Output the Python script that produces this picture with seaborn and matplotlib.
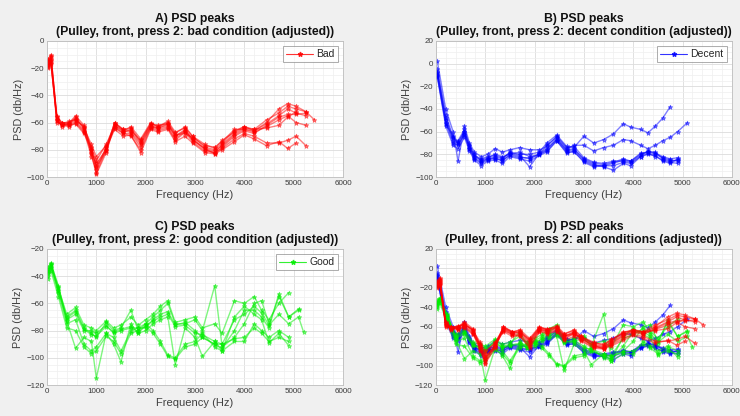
import numpy as np
import pandas as pd
import matplotlib
matplotlib.use("Agg")
import matplotlib.pyplot as plt
import seaborn as sns
from matplotlib.ticker import AutoMinorLocator, MultipleLocator
from matplotlib.lines import Line2D

# ---------------- data ----------------
freq_bad = [30, 80, 200, 300, 450, 580, 750, 900, 1000, 1200, 1370, 1550, 1700, 1900,
            2100, 2250, 2450, 2600, 2800, 2950, 3200, 3400, 3550, 3800, 4000, 4200,
            4450, 4700, 4880, 5050, 5250, 5420]
bad_1 = [-15, -12, -55, -60, -60, -55, -62, -80, -97, -80, -60, -66, -63, -72, -60, -63, -60, -68, -63, -70, -78, -80, -75, -66, -63, -66, -60, -50, -46, -48, -52, -58]
bad_2 = [-18, -14, -58, -62, -60, -57, -65, -83, -98, -82, -62, -67, -65, -75, -62, -64, -62, -70, -65, -72, -80, -82, -76, -68, -64, -65, -58, -53, -48, -50, -52]
bad_3 = [-20, -17, -56, -61, -62, -59, -66, -85, -95, -78, -64, -68, -68, -78, -63, -65, -63, -72, -66, -73, -79, -83, -78, -70, -66, -68, -62, -56, -54, -54, -53]
bad_4 = [-13, -10, -57, -63, -61, -58, -63, -82, -90, -80, -60, -65, -66, -73, -61, -62, -61, -69, -68, -71, -77, -78, -74, -65, -65, -67, -63, -58, -55, -60, -62]
bad_5 = [-16, -13, -59, -62, -63, -60, -67, -78, -88, -76, -63, -68, -70, -80, -64, -66, -64, -73, -67, -74, -81, -82, -79, -72, -68, -70, -75, -75, -73, -70, -77]
bad_6 = [-19, -15, -60, -61, -62, -61, -68, -80, -92, -79, -65, -70, -69, -82, -65, -67, -65, -74, -70, -75, -82, -83, -80, -74, -69, -72, -77, -74, -79, -75]
bad_7 = [-14, -11, -56, -60, -61, -56, -64, -76, -85, -77, -61, -65, -64, -74, -61, -63, -59, -67, -64, -70, -76, -79, -73, -67, -63, -65, -64, -62, -56, -52]
bad_8 = [-17, -16, -58, -61, -59, -58, -63, -79, -93, -81, -62, -66, -67, -76, -63, -64, -61, -70, -66, -72, -79, -81, -77, -69, -65, -66, -61, -55, -50, -53, -55]
bad_series = [bad_1, bad_2, bad_3, bad_4, bad_5, bad_6, bad_7, bad_8]

freq_decent = [30, 200, 350, 450, 580, 680, 780, 920, 1050, 1200, 1350, 1500, 1700, 1900,
               2100, 2250, 2450, 2650, 2800, 3000, 3200, 3400, 3600, 3800, 3950, 4150,
               4300, 4450, 4600, 4750, 4900, 5100]
decent_1 = [-5, -45, -65, -68, -58, -72, -80, -86, -84, -82, -84, -78, -80, -80, -78, -70, -63, -73, -74, -64, -70, -67, -62, -53, -56, -58, -61, -55, -48, -38]
decent_2 = [-8, -50, -68, -70, -60, -74, -82, -85, -83, -80, -82, -80, -78, -82, -80, -72, -65, -75, -72, -72, -77, -74, -72, -67, -68, -72, -75, -72, -68, -65, -60, -52]
decent_3 = [-10, -52, -70, -72, -62, -75, -84, -88, -85, -83, -86, -80, -82, -84, -80, -76, -66, -77, -76, -84, -88, -89, -87, -84, -86, -80, -78, -80, -83, -85, -86]
decent_4 = [-12, -55, -72, -75, -65, -77, -85, -90, -86, -85, -88, -82, -84, -86, -81, -78, -68, -78, -78, -86, -90, -90, -90, -87, -88, -82, -79, -82, -85, -87, -88]
decent_5 = [2, -40, -60, -86, -55, -70, -78, -82, -80, -75, -78, -76, -74, -76, -76, -73, -64, -74, -73, -83, -87, -88, -86, -86, -87, -81, -77, -79, -82, -84, -83]
decent_6 = [-7, -48, -66, -69, -60, -73, -81, -84, -82, -81, -83, -79, -81, -91, -79, -75, -67, -76, -75, -85, -89, -91, -94, -88, -90, -82, -80, -81, -86, -88, -84]
decent_7 = [-11, -53, -64, -71, -63, -75, -83, -87, -84, -84, -85, -81, -83, -83, -80, -77, -68, -79, -77, -87, -91, -90, -88, -85, -86, -79, -78, -78, -84, -86, -85]
decent_series = [decent_1, decent_2, decent_3, decent_4, decent_5, decent_6, decent_7]

freq_good = [30, 80, 230, 400, 580, 750, 900, 1000, 1200, 1350, 1500, 1700, 1850, 2000,
             2150, 2300, 2450, 2600, 2800, 3000, 3150, 3400, 3550, 3800, 4000, 4200,
             4350, 4500, 4700, 4900, 5100, 5200]
good_1 = [-35, -30, -48, -70, -65, -78, -82, -85, -74, -80, -78, -65, -80, -75, -70, -65, -60, -75, -75, -72, -80, -47, -92, -85, -75, -60, -58, -75, -55, -70, -65]
good_2 = [-38, -32, -50, -72, -68, -80, -80, -82, -76, -82, -80, -78, -78, -78, -72, -68, -66, -76, -74, -80, -85, -90, -93, -80, -65, -65, -70, -78, -53, -70, -64]
good_3 = [-40, -34, -52, -75, -72, -90, -95, -92, -82, -85, -95, -80, -78, -75, -80, -88, -98, -100, -90, -88, -82, -92, -95, -88, -88, -75, -80, -85, -80, -85]
good_4 = [-42, -36, -55, -78, -80, -92, -97, -95, -84, -88, -97, -82, -80, -77, -82, -90, -99, -101, -92, -90, -85, -90, -90, -86, -85, -78, -82, -88, -85, -88]
good_5 = [-33, -31, -47, -73, -93, -85, -88, -115, -82, -90, -103, -75, -82, -80, -75, -72, -70, -105, -78, -85, -99, -88, -95, -70, -62, -68, -72, -89, -82, -91]
good_6 = [-36, -33, -49, -68, -63, -76, -78, -80, -73, -78, -76, -70, -76, -72, -68, -62, -58, -74, -72, -70, -78, -75, -82, -58, -60, -55, -65, -72, -60, -52]
good_7 = [-37, -31, -51, -71, -66, -79, -83, -84, -77, -81, -79, -77, -82, -76, -73, -70, -68, -77, -76, -82, -83, -88, -90, -72, -68, -62, -67, -76, -68, -75, -70, -81]
good_series = [good_1, good_2, good_3, good_4, good_5, good_6, good_7]

titles = ["A) PSD peaks\n(Pulley, front, press 2: bad condition (adjusted))",
          "B) PSD peaks\n(Pulley, front, press 2: decent condition (adjusted))",
          "C) PSD peaks\n(Pulley, front, press 2: good condition (adjusted))",
          "D) PSD peaks\n(Pulley, front, press 2: all conditions (adjusted))"]
legend_labels = ["Bad", "Decent", "Good"]
ylims = [(-100, 0), (-100, 20), (-120, -20), (-120, 20)]

# ---------------- styling ----------------
sns.set_theme(style="white")
plt.rcParams['font.family'] = ['Liberation Sans', 'DejaVu Sans']

col = {"Bad": "#ff0000", "Decent": "#0000ff", "Good": "#00ee00"}

def build(freq, series, cond):
    rows = []
    for i, vals in enumerate(series):
        for f, v in zip(freq, vals):
            rows.append((cond, i, f, v))
    return pd.DataFrame(rows, columns=["cond", "run", "freq", "psd"])

df_bad = build(freq_bad, bad_series, "Bad")
df_dec = build(freq_decent, decent_series, "Decent")
df_good = build(freq_good, good_series, "Good")

fig = plt.figure(figsize=(7.4, 4.16), dpi=100)
fig.patch.set_facecolor("#f0f0f0")

pos = [[0.0635, 0.5745, 0.40, 0.327],
       [0.589, 0.5745, 0.40, 0.327],
       [0.0635, 0.0745, 0.40, 0.327],
       [0.589, 0.0745, 0.40, 0.327]]
axes = [fig.add_axes(p) for p in pos]

def draw(ax, df):
    cond = df["cond"].iloc[0]
    sns.lineplot(data=df, x="freq", y="psd", units="run", estimator=None,
                 color=col[cond], marker="*", markersize=3.5, markeredgewidth=0.6,
                 markeredgecolor=col[cond],
                 linewidth=1.0, alpha=0.5, sort=False, ax=ax, legend=False)

draw(axes[0], df_bad)
draw(axes[1], df_dec)
draw(axes[2], df_good)
draw(axes[3], df_dec)
draw(axes[3], df_good)
draw(axes[3], df_bad)

for i, ax in enumerate(axes):
    ax.set_facecolor("white")
    ax.set_xlim(0, 6000)
    ax.set_ylim(*ylims[i])
    ax.xaxis.set_major_locator(MultipleLocator(1000))
    ax.yaxis.set_major_locator(MultipleLocator(20))
    ax.xaxis.set_minor_locator(AutoMinorLocator(5))
    ax.yaxis.set_minor_locator(AutoMinorLocator(4))
    ax.grid(which="major", color="#dcdcdc", linewidth=0.6)
    ax.grid(which="minor", color="#efefef", linewidth=0.5)
    ax.set_axisbelow(True)
    ax.tick_params(axis="both", which="major", labelsize=5.8, colors="#3a3a3a",
                   length=2, width=0.5, pad=2, direction="in")
    ax.tick_params(axis="both", which="minor", length=0)
    for s in ax.spines.values():
        s.set_color("#bdbdbd")
        s.set_linewidth(0.6)
    ax.set_xlabel("Frequency (Hz)", fontsize=8, color="#404040", labelpad=2)
    ax.set_ylabel("PSD (db/Hz)", fontsize=7.8, color="#404040", labelpad=2)
    ax.set_title(titles[i], fontsize=8.8, fontweight="bold", color="#111111",
                 pad=4, linespacing=1.15)

for ax, lab in zip(axes[:3], legend_labels):
    h = Line2D([0], [0], color=col[lab], marker="*", markersize=3.5,
               linewidth=0.8, alpha=0.8)
    leg = ax.legend([h], [lab], loc="upper right", fontsize=7.5, frameon=True,
                    fancybox=False, borderpad=0.3, handlelength=2.6,
                    handletextpad=0.3, borderaxespad=0.5)
    leg.get_frame().set_edgecolor("#888888")
    leg.get_frame().set_linewidth(0.6)

fig.savefig("out.png", dpi=100, facecolor=fig.get_facecolor())
